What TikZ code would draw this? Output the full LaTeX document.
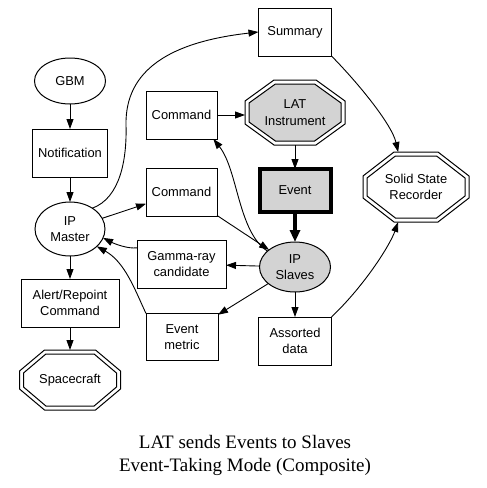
\documentclass[tikz,border=0pt]{standalone}
\usepackage{fontspec}
\setmainfont{Liberation Sans}
\newfontfamily\capfont{Liberation Serif}
\usepackage{tikz}
\usetikzlibrary{arrows.meta}
\usetikzlibrary{shapes.geometric}
\usetikzlibrary{calc,backgrounds}
\usepackage{xcolor}
\definecolor{latgray}{RGB}{211,211,211}

% octagon round a node: name, chamfer x, chamfer y, inset
\newcommand{\octpath}[4]{%
  ($(#1.north west)+(#2+.35*#4,#4)$) -- ($(#1.north east)+(-#2-.35*#4,#4)$)
  -- ($(#1.north east)+(-#4,#3+.5*#4)$) -- ($(#1.south east)+(-#4,-#3-.5*#4)$)
  -- ($(#1.south east)+(-#2-.35*#4,-#4)$) -- ($(#1.south west)+(#2+.35*#4,-#4)$)
  -- ($(#1.south west)+(#4,-#3-.5*#4)$) -- ($(#1.north west)+(#4,#3+.5*#4)$) -- cycle}

\begin{document}
\begin{tikzpicture}[x=1pt, y=-1pt,
    font=\fontsize{12.9}{16.5}\selectfont,
    box/.style={draw, line width=1pt, inner sep=0pt, outer sep=0pt,
      minimum width=#1, minimum height=48pt, align=center},
    oval/.style={draw, ellipse, line width=1pt, inner sep=0pt, outer sep=0pt, align=center},
    octo/.style={inner sep=0pt, outer sep=0pt, align=center},
    flow/.style={line width=0.9pt, -{Triangle[length=10pt,width=7pt]}}]
    \useasboundingbox (0,0) rectangle (487,488);

    % left column
    \node[oval, minimum width=71pt, minimum height=46pt] (gbm) at (70,81) {GBM};
    \node[box=75pt] (notif) at (70,153) {Notification};
    \node[oval, minimum width=70pt, minimum height=54pt] (master) at (70,229) {IP\\Master};
    \node[box=98pt] (alert) at (70,303) {Alert/Repoint\\Command};
    \node[octo, minimum width=101pt, minimum height=60pt] (craft) at (70,380) {Spacecraft};

    % middle column
    \node[box=71pt] (cmda) at (181.5,115) {Command};
    \node[box=71pt] (cmdb) at (181.5,192) {Command};
    \node[box=89pt] (gamma) at (181.5,264) {Gamma-ray\\candidate};
    \node[box=72pt, minimum height=47pt] (metric) at (182,337) {Event\\metric};

    % right column
    \node[box=73pt] (summary) at (295,32) {Summary};
    \node[octo, minimum width=100pt, minimum height=65pt] (lat) at (295,112.5) {LAT\\Instrument};
    \node[box=71pt, minimum height=43pt, line width=4pt, fill=latgray] (event) at (295,190.5) {Event};
    \node[oval, fill=latgray, minimum width=71pt, minimum height=50pt] (slaves) at (295,267) {IP\\Slaves};
    \node[box=73pt] (assorted) at (295,341) {Assorted\\data};
    \node[octo, minimum width=106pt, minimum height=70pt] (ssr) at (416,187) {Solid State\\Recorder};

    % double octagons
    \begin{scope}[on background layer]
      \fill[white] (0,0) rectangle (487,488);
      \draw[line width=1pt] \octpath{craft}{25}{21}{0};
      \draw[line width=1pt] \octpath{craft}{25}{21}{4};
      \draw[line width=1pt] \octpath{lat}{29}{21}{0};
      \draw[line width=1pt, fill=latgray] \octpath{lat}{29}{21}{4};
      \draw[line width=1pt] \octpath{ssr}{31}{24}{0};
      \draw[line width=1pt] \octpath{ssr}{31}{24}{4};
    \end{scope}

    % connectors
    \draw[flow] (gbm) -- (notif);
    \draw[flow] (notif) -- (master);
    \draw[flow] (master) -- (alert);
    \draw[flow] (alert) -- (craft);
    \draw[flow] (master) -- (cmdb);
    \draw[flow] (master.43) .. controls (120,198) and (127,160) .. (126,125)
      .. controls (125,70) and (170,42) .. (summary.west);
    \draw[flow] (cmda.east) -- (cmda.east -| lat.west);
    \draw[flow] (lat) -- (event);
    \draw[flow, line width=3.5pt, -{Triangle[length=12pt,width=10pt]}] (event) -- (slaves);
    \draw[flow] (summary.south east) .. controls (360,85) and (392,125) .. (ssr.117);
    \draw[flow] (assorted.north east) .. controls (365,285) and (390,245) .. (ssr.243);
    \draw[flow] (slaves.150) .. controls (238,232) and (238,170) .. (cmda.-37);
    \draw[flow] (cmdb) -- (slaves);
    \draw[flow] (slaves) -- (gamma);
    \draw[flow] (gamma.160) .. controls (128,249) and (115,244) .. (master.-15);
    \draw[flow] (metric.north west) .. controls (135,290) and (125,262) .. (master.-33);
    \draw[flow] (slaves) -- (metric);
    \draw[flow] (slaves) -- (assorted);

    % caption
    \node[font=\capfont\fontsize{19}{23}\selectfont, align=center] (caption) at (245,455)
      {LAT sends Events to Slaves\\Event-Taking Mode (Composite)};
\end{tikzpicture}
\end{document}
